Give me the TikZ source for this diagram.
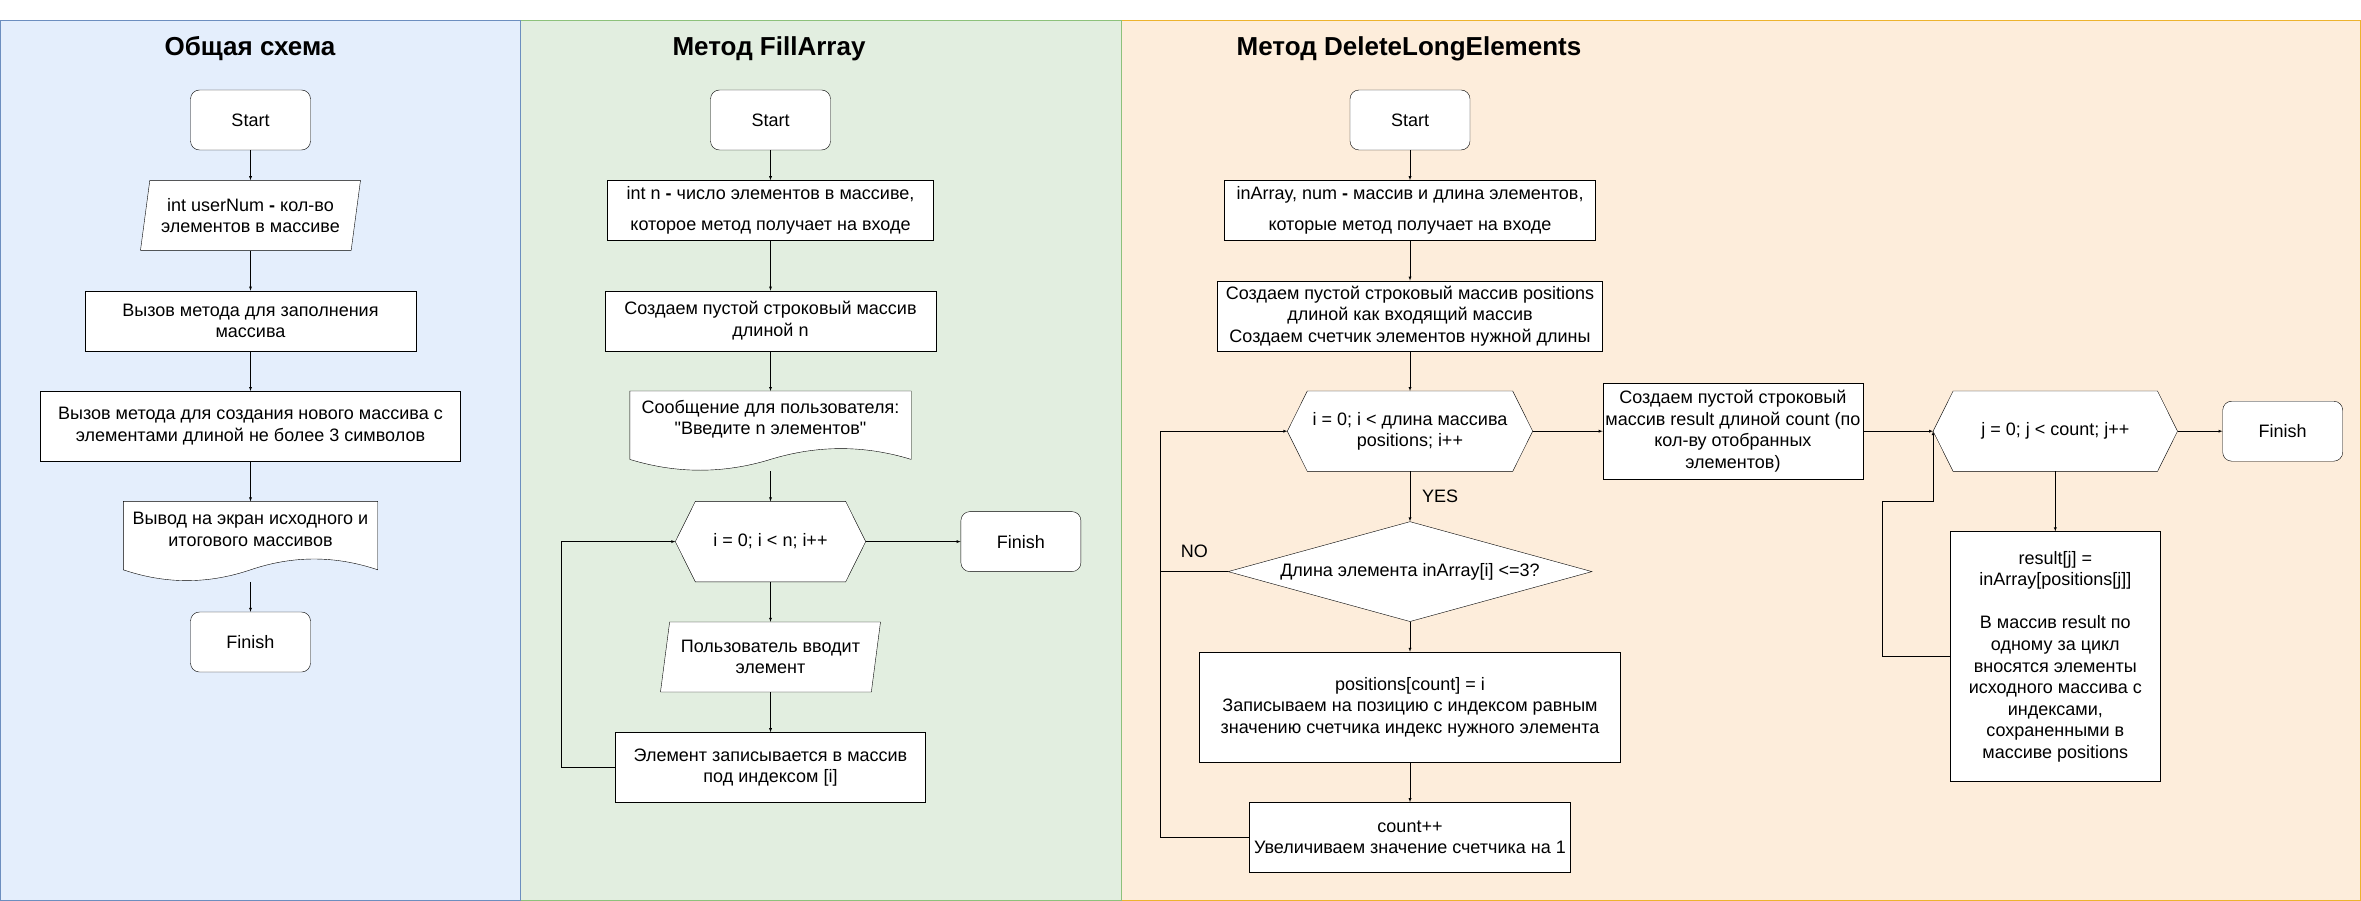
\documentclass[tikz,border=0pt]{standalone}
\usepackage{fontspec}
\newfontfamily\drawfont{Liberation Sans}
\usetikzlibrary{positioning, shapes.geometric, calc}
\pgfdeclarelayer{back}
\pgfdeclarelayer{mid}
\pgfsetlayers{back,mid,main}
\definecolor{bluefill}{HTML}{E4EEFC}
\definecolor{blueline}{HTML}{6C8EBF}
\definecolor{greenfill}{HTML}{E2EEE0}
\definecolor{greenline}{HTML}{8DC17B}
\definecolor{orangefill}{HTML}{FDEDDB}
\definecolor{orangeline}{HTML}{EDB32E}
% outline of a document box with a wavy bottom
\newcommand{\docline}[1]{%
  \draw[fill=white] (#1.north west) -- (#1.north east) -- ([yshift=-12pt]#1.south east)
    .. controls ($(#1.south west)!0.8333!(#1.south east)+(0pt,2.4pt)$) and ($(#1.south west)!0.6667!(#1.south east)+(0pt,2.4pt)$) .. ([yshift=-12pt]#1.south)
    .. controls ($(#1.south west)!0.3333!(#1.south east)+(0pt,-26.4pt)$) and ($(#1.south west)!0.1667!(#1.south east)+(0pt,-26.4pt)$) .. ([yshift=-12pt]#1.south west) -- cycle;}
% outline of a loop hexagon
\newcommand{\hexline}[1]{%
  \draw[fill=white] (#1.west) -- ([xshift=20pt]#1.north west) -- ([xshift=-20pt]#1.north east) -- (#1.east)
    -- ([xshift=-20pt]#1.south east) -- ([xshift=20pt]#1.south west) -- cycle;}

\begin{document}
\begin{tikzpicture}[x=1pt, y=-1pt, node distance=40pt, line width=1.4pt,
    font=\drawfont\fontsize{18}{21.6}\selectfont,
    term/.style={rectangle, rounded corners=9pt, draw, fill=white, minimum width=120pt, minimum height=60pt, inner sep=0pt},
    proc/.style={rectangle, draw, fill=white, inner sep=0pt, align=center},
    io/.style={trapezium, trapezium left angle=75, trapezium right angle=105, trapezium stretches body=true,
      draw, fill=white, minimum width=220pt, minimum height=70pt, inner sep=0pt, align=center},
    hexbox/.style={rectangle, inner sep=0pt, align=center, minimum height=80pt},
    docbox/.style={rectangle, inner sep=0pt, align=center, minimum height=56pt},
    cond/.style={diamond, aspect=3.6, draw, fill=white, inner sep=0pt, minimum width=364pt, minimum height=100pt},
    title/.style={font=\drawfont\bfseries\fontsize{26}{30}\selectfont}]
  \useasboundingbox (0,0) rectangle (2361,901);
  \begin{pgfonlayer}{back}
    \draw[fill=orangefill, draw=orangeline] (1121,20) rectangle (2360,900);
    \draw[fill=greenfill, draw=greenline] (520,20) rectangle (1121,900);
    \draw[fill=bluefill, draw=blueline] (0,20) rectangle (520,900);
  \end{pgfonlayer}

  % Общая схема
  \node[title] (t1) at (250,49) {Общая схема};
  \node[term] (start1) at (250.5,120) {Start};
  \node[io, below=30pt of start1] (in1) {int userNum \textbf{-} кол-во\\элементов в массиве};
  \node[proc, minimum width=331pt, minimum height=60pt, below=of in1] (fill1) {Вызов метода для заполнения\\массива};
  \node[proc, minimum width=420pt, minimum height=70pt, below=of fill1] (make1) {Вызов метода для создания нового массива с\\элементами длиной не более 3 символов};
  \node[docbox, minimum width=254pt, below=of make1] (out1) {Вывод на экран исходного и\\итогового массивов};
  \coordinate[below=24pt of out1] (out1b);
  \node[term, below=30pt of out1b] (fin1) {Finish};
  \draw[-latex] (start1) -- (start1 |- in1.north);
  \draw[-latex] (in1.south -| start1) -- (fill1);
  \draw[-latex] (fill1) -- (make1);
  \draw[-latex] (make1) -- (out1);
  \draw[-latex] (out1b) -- (fin1);

  % Метод FillArray
  \node[title] (t2) at (769,49) {Метод FillArray};
  \node[term] (start2) at (770.5,120) {Start};
  \node[proc, minimum width=326pt, minimum height=60pt, below=30pt of start2] (in2) {int n \textbf{-} число элементов в массиве,\\[10pt]которое метод получает на входе};
  \node[proc, minimum width=331pt, minimum height=60pt, below=50pt of in2] (arr2) {Создаем пустой строковый массив\\длиной n};
  \node[docbox, minimum width=281pt, below=of arr2] (msg2) {Сообщение для пользователя:\\"Введите n элементов"};
  \coordinate[below=24pt of msg2] (msg2b);
  \node[hexbox, minimum width=190pt, below=30pt of msg2b] (loop2) {i = 0; i < n; i++};
  \node[term, right=95pt of loop2] (fin2) {Finish};
  \node[io, below=of loop2] (get2) {Пользователь вводит\\элемент};
  \node[proc, minimum width=310pt, minimum height=70pt, below=of get2] (put2) {Элемент записывается в массив\\под индексом [i]};
  \draw[-latex] (start2) -- (in2);
  \draw[-latex] (in2) -- (arr2);
  \draw[-latex] (arr2) -- (msg2);
  \draw[-latex] (msg2b) -- (loop2);
  \draw[-latex] (loop2) -- (fin2);
  \draw[-latex] (loop2) -- (loop2 |- get2.north);
  \draw[-latex] (get2.south -| loop2) -- (put2);
  \draw[-latex] (put2.west) -- ++(-54pt,0pt) |- (loop2.west);

  % Метод DeleteLongElements
  \node[title] (t3) at (1409,49) {Метод DeleteLongElements};
  \node[term] (start3) at (1410,120) {Start};
  \node[proc, minimum width=371pt, minimum height=60pt, below=30pt of start3] (in3) {inArray, num \textbf{-} массив и длина элементов,\\[10pt]которые метод получает на входе};
  \node[proc, minimum width=385pt, minimum height=70pt, below=of in3] (pos3) {Создаем пустой строковый массив positions\\длиной как входящий массив\\Создаем счетчик элементов нужной длины};
  \node[hexbox, minimum width=245pt, below=of pos3] (loop3) {i = 0; i < длина массива\\positions; i++};
  \node[cond, below=50pt of loop3] (len3) {Длина элемента inArray[i] <=3?};
  \node[proc, minimum width=421pt, minimum height=110pt, below=30pt of len3] (save3) {positions[count] = i\\Записываем на позицию с индексом равным\\значению счетчика индекс нужного элемента};
  \node[proc, minimum width=321pt, minimum height=70pt, below=of save3] (cnt3) {count++\\Увеличиваем значение счетчика на 1};
  \node[proc, minimum width=260pt, minimum height=96pt, right=70pt of loop3] (res3) {Создаем пустой строковый\\массив result длиной count (по\\кол-ву отобранных\\элементов)};
  \node[hexbox, minimum width=244pt, right=70pt of res3] (loop4) {j = 0; j < count; j++};
  \node[term, right=45pt of loop4] (fin3) {Finish};
  \node[proc, minimum width=210pt, minimum height=250pt, below=60pt of loop4] (copy3) {result[j] =\\inArray[positions[j]]\\[21.6pt]В массив result по\\одному за цикл\\вносятся элементы\\исходного массива с\\индексами,\\сохраненными в\\массиве positions};
  \draw[-latex] (start3) -- (in3);
  \draw[-latex] (in3) -- (pos3);
  \draw[-latex] (pos3) -- (loop3);
  \draw[-latex] (loop3) -- node[right=12pt, inner sep=0pt] {YES} (len3);
  \draw[-latex] (len3) -- (save3);
  \draw[-latex] (save3) -- (cnt3);
  \draw (len3.west) -- node[above=14pt, inner sep=0pt] {NO} ++(-67pt,0pt);
  \draw[-latex] (cnt3.west) -- ++(-89pt,0pt) |- (loop3.west);
  \draw[-latex] (loop3) -- (res3);
  \draw[-latex] (res3) -- (loop4);
  \draw[-latex] (loop4) -- (fin3);
  \draw[-latex] (loop4) -- (copy3);
  \draw[-latex] (copy3.west) -- ++(-68pt,0pt) |- ($(loop4.west)+(0pt,-70pt)$) -- (loop4.west);

  % outlines of the documents and hexagons
  \begin{pgfonlayer}{mid}
    \docline{out1}
    \docline{msg2}
    \hexline{loop2}
    \hexline{loop3}
    \hexline{loop4}
  \end{pgfonlayer}
\end{tikzpicture}
\end{document}
